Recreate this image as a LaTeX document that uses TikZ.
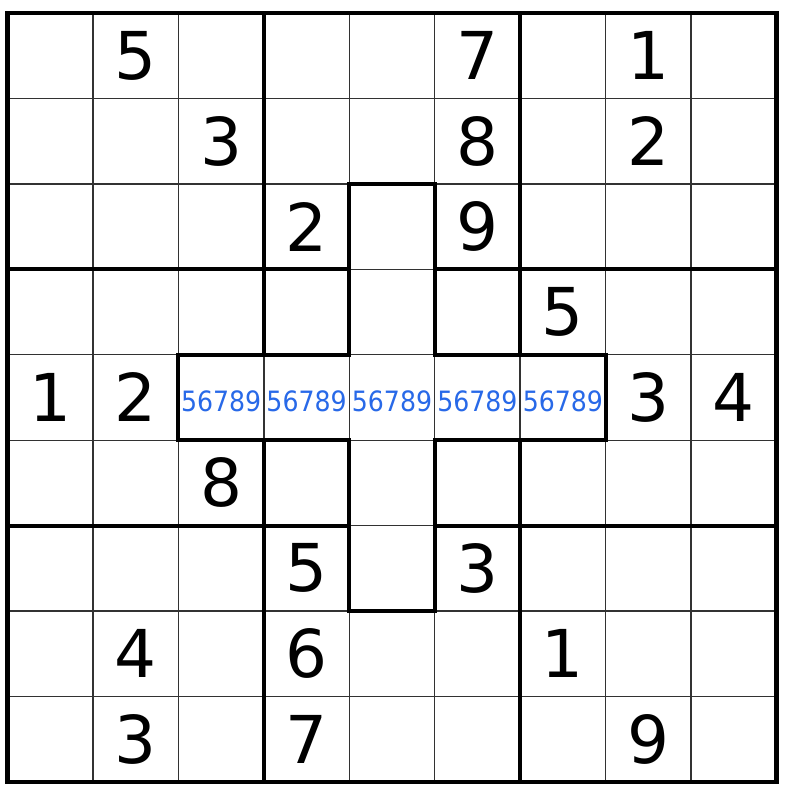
\documentclass[tikz,border=0pt]{standalone}
\usepackage{fontspec}
\setmainfont{DejaVu Sans}
\newfontfamily\candfont[FakeStretch=0.9]{DejaVu Sans}
\definecolor{candblue}{RGB}{40,105,232}
\definecolor{thingray}{RGB}{50,50,50}
\tikzset{
  thinline/.style={draw=thingray,line width=1.4pt},
  thickline/.style={draw=black,line width=4pt,line cap=rect},
  outerline/.style={draw=black,line width=4.2pt,line join=miter},
  crossline/.style={draw=black,line width=4pt,line join=miter},
  given/.style={inner sep=0pt,font=\fontsize{66}{66}\selectfont,text=black},
  cand/.style={inner sep=0pt,font=\candfont\fontsize{28}{28}\selectfont,text=candblue},
}
\begin{document}
\begin{tikzpicture}[x=85.45pt,y=-85.45pt]
\useasboundingbox (-0.0878,-0.1521) rectangle (9.1638,9.1989);
\fill[white] (-0.0878,-0.1521) rectangle (9.1638,9.1989);
% thin grid
\foreach \i in {1,...,8}{
  \draw[thinline] (\i,0) -- (\i,9);
  \draw[thinline] (0,\i) -- (9,\i);
}
% box lines (broken inside the cross)
\foreach \i in {3,6}{
  \draw[thickline] (\i,0) -- (\i,4);
  \draw[thickline] (\i,5) -- (\i,9);
  \draw[thickline] (0,\i) -- (4,\i);
  \draw[thickline] (5,\i) -- (9,\i);
}
% cross outline
\draw[crossline] (4,2) -- (5,2) -- (5,4) -- (7,4) -- (7,5) -- (5,5) -- (5,7)
  -- (4,7) -- (4,5) -- (2,5) -- (2,4) -- (4,4) -- cycle;
% outer border
\draw[outerline] (0,0) rectangle (9,9);
% givens: row/col/digit
\foreach \r/\c/\d in {0/1/5,0/5/7,0/7/1,
  1/2/3,1/5/8,1/7/2,
  2/3/2,2/5/9,
  3/6/5,
  4/0/1,4/1/2,4/7/3,4/8/4,
  5/2/8,
  6/3/5,6/5/3,
  7/1/4,7/3/6,7/6/1,
  8/1/3,8/3/7,8/7/9}{
  \node[given] (g-\r-\c) at (\c+0.5,\r+0.5) {\d};
}
% candidates
\foreach \c in {2,...,6}{
  \node[cand] (c-4-\c) at (\c+0.5,4.54) {56789};
}
\end{tikzpicture}
\end{document}
